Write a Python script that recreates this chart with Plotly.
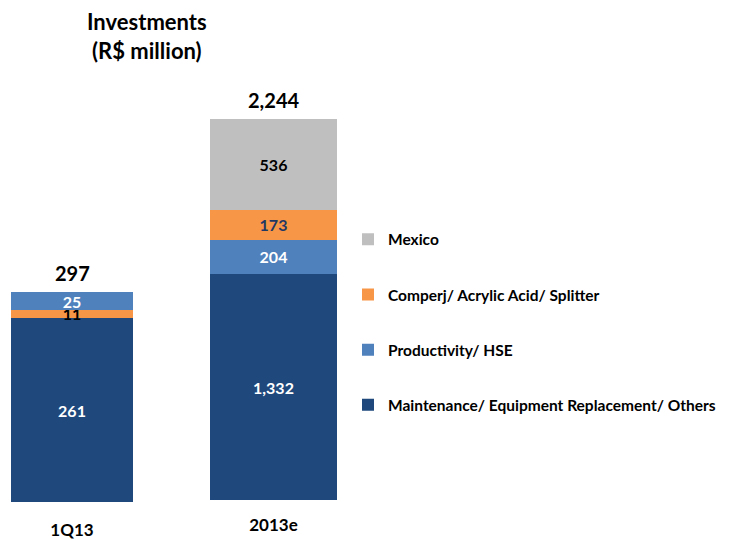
import plotly.graph_objects as go

periods = ["1Q13", "2013e"]
series_names = [
    "Maintenance/ Equipment Replacement/ Others",
    "Productivity/ HSE",
    "Comperj/ Acrylic Acid/ Splitter",
    "Mexico",
]
values_1q13 = [261, 25, 11, 0]
values_2013e = [1332, 204, 173, 536]
totals = [297, 2244]
total_labels = ["297", "2,244"]

colors = ["#1F497D", "#4F81BD", "#F79646", "#BFBFBF"]
label_colors = ["white", "white", "#1F3864", "black"]
label_colors_q = ["white", "white", "black", "black"]
# in the 1Q13 column the orange block sits under the light blue one
stack_order_q = [0, 2, 1, 3]
legend_rank = [4, 3, 2, 1]

FONT = "Lato"

fig = go.Figure()
for i in stack_order_q:
    name = series_names[i]
    v = values_1q13[i]
    fig.add_trace(go.Bar(
        x=[periods[0]], y=[v], name=name, legendgroup=name, showlegend=False,
        legendrank=legend_rank[i],
        marker=dict(color=colors[i], line=dict(width=0)),
        text=[f"{v:,}" if v else ""], textposition="inside", insidetextanchor="middle",
        textangle=0, constraintext="none",
        textfont=dict(family=FONT, size=16, color=label_colors_q[i], weight="bold"),
        xaxis="x", yaxis="y", width=1, hoverinfo="skip",
    ))
for i, name in enumerate(series_names):
    v = values_2013e[i]
    fig.add_trace(go.Bar(
        x=[periods[1]], y=[v], name=name, legendgroup=name, showlegend=True,
        legendrank=legend_rank[i],
        marker=dict(color=colors[i], line=dict(width=0)),
        text=[f"{v:,}"], textposition="inside", insidetextanchor="middle",
        textangle=0, constraintext="none",
        textfont=dict(family=FONT, size=16, color=label_colors[i], weight="bold"),
        xaxis="x2", yaxis="y2", width=1, hoverinfo="skip",
    ))

fig.add_annotation(x=periods[0], y=totals[0], xref="x", yref="y", text=total_labels[0],
                   showarrow=False, yanchor="bottom", yshift=5,
                   font=dict(family=FONT, size=20, color="black", weight="bold"))
fig.add_annotation(x=periods[1], y=totals[1], xref="x2", yref="y2", text=total_labels[1],
                   showarrow=False, yanchor="bottom", yshift=5,
                   font=dict(family=FONT, size=20, color="black", weight="bold"))
fig.add_annotation(x=147 / 741, y=1 - 6 / 540, xref="paper", yref="paper",
                   text="Investments<br>(R$ million)", showarrow=False,
                   xanchor="center", yanchor="top", align="center",
                   font=dict(family=FONT, size=22, color="black", weight="bold"))

axis_font = dict(family=FONT, size=17, color="black", weight="bold")
fig.update_layout(
    width=741, height=540,
    margin=dict(l=0, r=0, t=0, b=0),
    paper_bgcolor="white", plot_bgcolor="white",
    barmode="stack",
    uniformtext=dict(minsize=16, mode="show"),
    xaxis=dict(domain=[11 / 741, 133 / 741], range=[-0.5, 0.5], anchor="y",
               showgrid=False, zeroline=False, showline=False, ticks="",
               tickfont=axis_font, ticklabelstandoff=16),
    yaxis=dict(domain=[35 / 540, 1], range=[0, 505 / 0.7104], visible=False),
    xaxis2=dict(domain=[210 / 741, 337 / 741], range=[-0.5, 0.5], anchor="y2",
                showgrid=False, zeroline=False, showline=False, ticks="",
                tickfont=axis_font, ticklabelstandoff=13),
    yaxis2=dict(domain=[37 / 540, 1], range=[0, 503 / 0.17068], visible=False),
    showlegend=True,
    legend=dict(x=348 / 741, y=1 - 224 / 540, xanchor="left", yanchor="top",
                traceorder="grouped", tracegroupgap=32,
                font=dict(family=FONT, size=15.5, color="black", weight="bold"),
                bgcolor="rgba(0,0,0,0)", itemclick=False, itemdoubleclick=False),
)

fig.write_html("out.html", config={"displayModeBar": False},
               post_script="document.body.style.margin='0';")
